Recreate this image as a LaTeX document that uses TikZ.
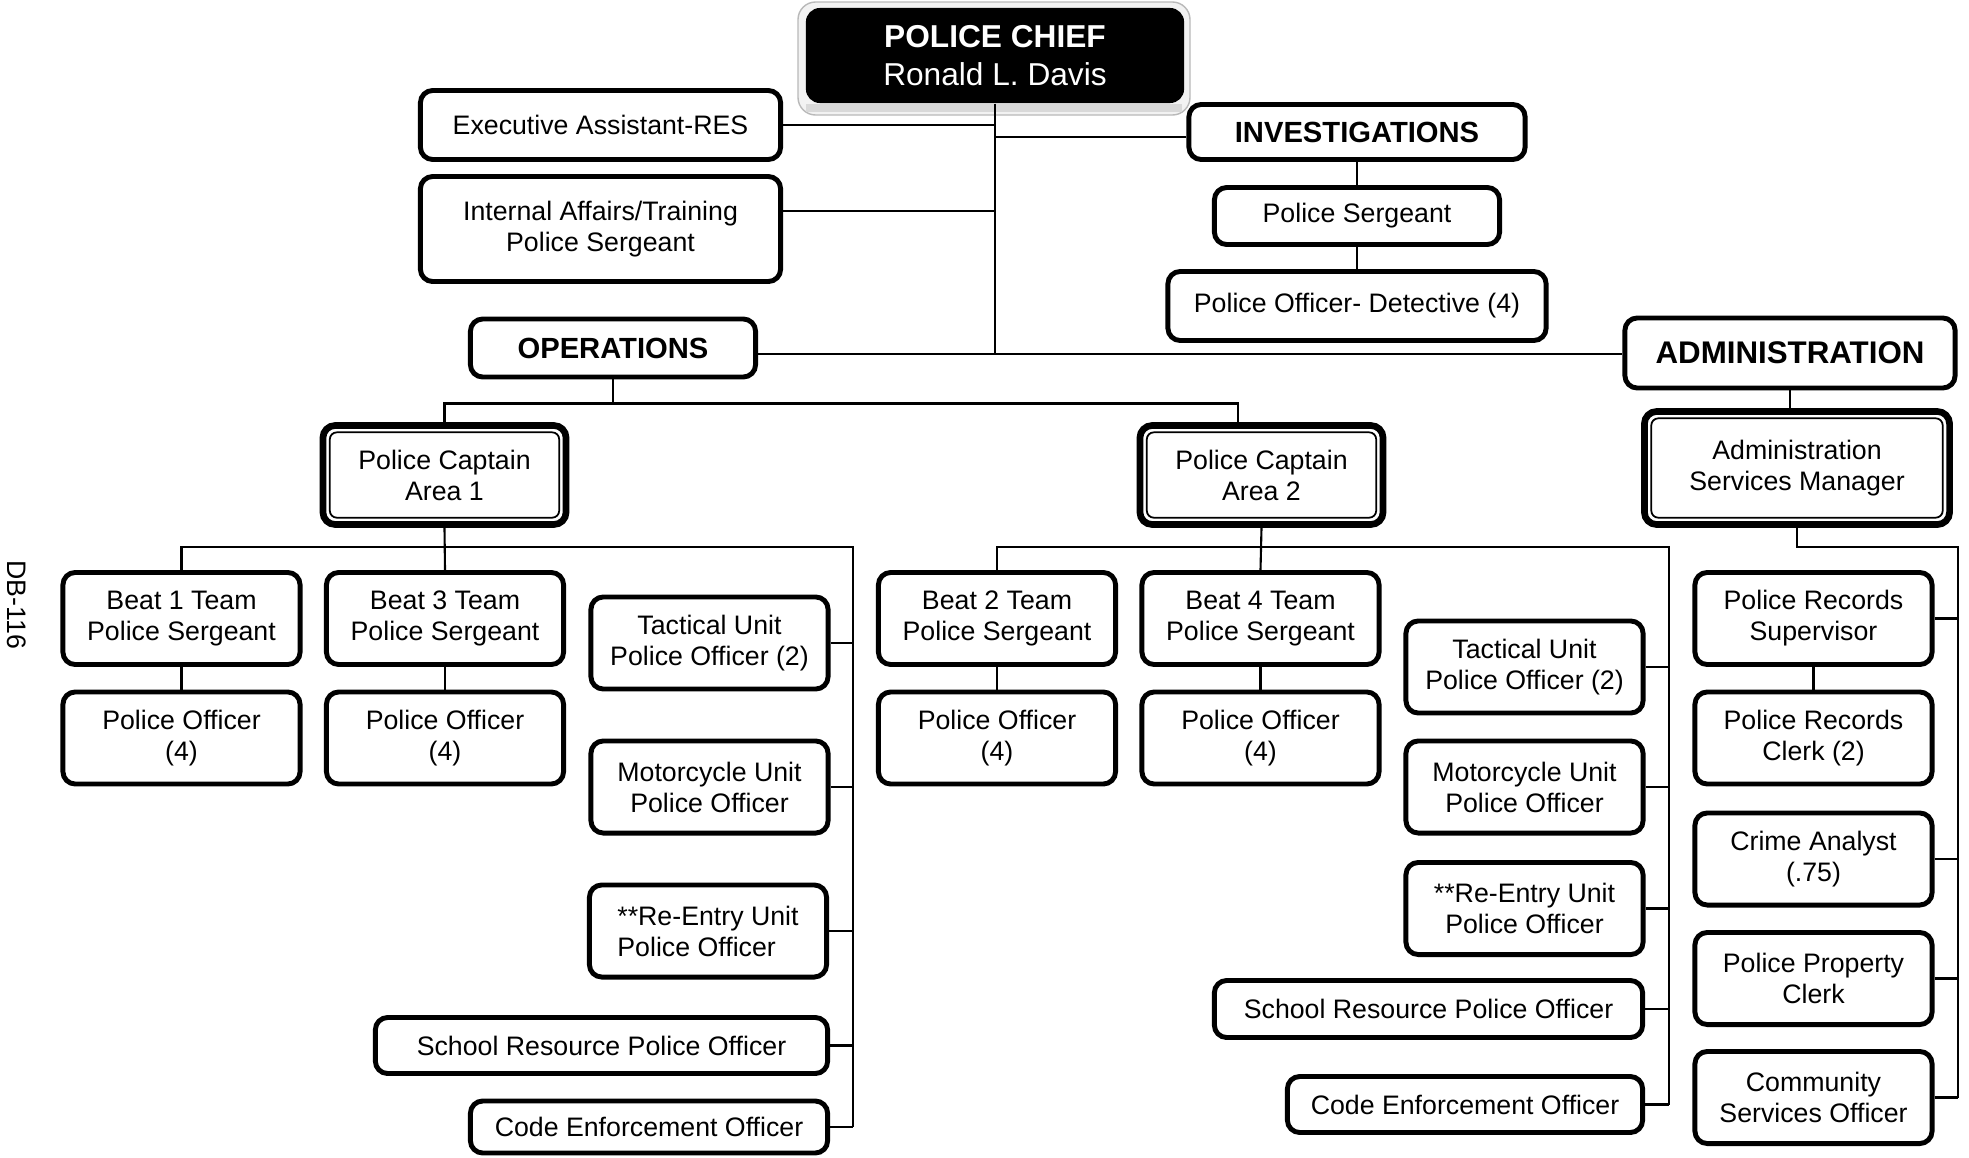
\documentclass[tikz,border=0pt]{standalone}
\usepackage{fontspec}
\setmainfont{Liberation Sans}

\tikzset{
  post/.style={draw,line width=1.4pt,rounded corners=3.5pt,align=center,inner sep=0pt,
    font=\fontsize{7.6}{8.8}\selectfont},
  team/.style={post,minimum width=2.37cm,minimum height=0.92cm},
  head/.style={post,font=\fontsize{8.3}{10}\selectfont\bfseries},
  lead/.style={post,line width=1.9pt},
  link/.style={line width=0.6pt}
}

\begin{document}
\begin{tikzpicture}[x=0.01cm,y=-0.01cm]
  \useasboundingbox (0,0) rectangle (1969,1157);

  % chief
  \draw[gray!55,fill=gray!10,rounded corners=5pt] (798,2) rectangle (1190,115);
  \fill[gray!30] (806,104) rectangle (1182,112);
  \node[fill=black,text=white,rounded corners=4pt,minimum width=3.78cm,minimum height=0.95cm,
    align=center,inner sep=0pt,font=\fontsize{9}{10.8}\selectfont] (chief) at (995,55.5)
    {\textbf{POLICE CHIEF}\\Ronald L. Davis};

  \node[post,minimum width=3.6cm,minimum height=0.69cm] (exec) at (600.5,125) {Executive Assistant-RES};
  \node[post,minimum width=3.6cm,minimum height=1.05cm] (ia) at (600.5,229) {Internal Affairs/Training\\Police Sergeant};

  \node[head,minimum width=3.36cm,minimum height=0.55cm] (inv) at (1357,132) {INVESTIGATIONS};
  \node[post,minimum width=2.85cm,minimum height=0.57cm] (isgt) at (1357,216) {Police Sergeant};
  \node[post,minimum width=3.78cm,minimum height=0.69cm] (det) at (1357,306) {Police Officer- Detective (4)};

  \node[head,minimum width=2.85cm,minimum height=0.58cm] (ops) at (613,348) {OPERATIONS};
  \node[head,font=\fontsize{8.9}{10}\selectfont\bfseries,minimum width=3.3cm,minimum height=0.7cm] (adm) at (1790,353) {ADMINISTRATION};

  % captains and manager
  \node[lead,minimum width=2.43cm,minimum height=0.99cm] (capA) at (444.5,475) {Police Captain\\Area 1};
  \node[lead,minimum width=2.43cm,minimum height=0.99cm] (capB) at (1261.5,475) {Police Captain\\Area 2};
  \node[lead,minimum width=3.05cm,minimum height=1.13cm] (asm) at (1797,468) {Administration\\Services Manager};
  \foreach \n in {capA,capB,asm}
    \draw[line width=0.5pt,rounded corners=2pt] ([shift={(2.9pt,-2.9pt)}]\n.north west) rectangle ([shift={(-2.9pt,2.9pt)}]\n.south east);

  % area 1
  \node[team] (b1) at (181.5,618.5) {Beat 1 Team\\Police Sergeant};
  \node[team] (b3) at (445,618.5) {Beat 3 Team\\Police Sergeant};
  \node[team] (po1) at (181.5,738) {Police Officer\\(4)};
  \node[team] (po3) at (445,738) {Police Officer\\(4)};
  \node[team] (tac1) at (709.5,643) {Tactical Unit\\Police Officer (2)};
  \node[team] (moto1) at (709.5,787) {Motorcycle Unit\\Police Officer};
  \node[team,align=left] (re1) at (708,931) {**Re-Entry Unit\\Police Officer};
  \node[post,minimum width=4.52cm,minimum height=0.56cm] (sch1) at (601.5,1045.5) {School Resource Police Officer};
  \node[post,minimum width=3.57cm,minimum height=0.52cm] (code1) at (649,1127) {Code Enforcement Officer};

  % area 2
  \node[team] (b2) at (997,618.5) {Beat 2 Team\\Police Sergeant};
  \node[team] (b4) at (1260.5,618.5) {Beat 4 Team\\Police Sergeant};
  \node[team] (po2) at (997,738) {Police Officer\\(4)};
  \node[team] (po4) at (1260.5,738) {Police Officer\\(4)};
  \node[team] (tac2) at (1524.5,667) {Tactical Unit\\Police Officer (2)};
  \node[team] (moto2) at (1524.5,787) {Motorcycle Unit\\Police Officer};
  \node[team] (re2) at (1524.5,908.5) {**Re-Entry Unit\\Police Officer};
  \node[post,minimum width=4.28cm,minimum height=0.57cm] (sch2) at (1428.5,1009) {School Resource Police Officer};
  \node[post,minimum width=3.55cm,minimum height=0.56cm] (code2) at (1465,1104.5) {Code Enforcement Officer};

  % administration
  \node[team] (sup) at (1813.5,618.5) {Police Records\\Supervisor};
  \node[team] (clk) at (1813.5,738) {Police Records\\Clerk (2)};
  \node[team] (crime) at (1813.5,859) {Crime Analyst\\(.75)};
  \node[team] (prop) at (1813.5,978.5) {Police Property\\Clerk};
  \node[team] (cso) at (1813.5,1097.5) {Community\\Services Officer};

  \node[rotate=-90,font=\fontsize{7.6}{8.8}\selectfont] (db) at (17,605) {DB-116};

  % top links
  \coordinate (trunk) at ([yshift=-0.06cm]ops.east -| chief.south);
  \draw[link] (chief.south) -- (trunk);
  \draw[link] ([yshift=-0.06cm]ops.east) -- (trunk -| adm.west);
  \draw[link] (exec.east) -- (exec.east -| chief.south);
  \draw[link] ([yshift=0.18cm]ia.east) -- ([yshift=0.18cm]ia.east -| chief.south);
  \draw[link] ([yshift=-0.05cm]inv.west) -- ([yshift=-0.05cm]inv.west -| chief.south);
  \draw[link] (inv.south) -- (isgt.north);
  \draw[link] (isgt.south) -- (det.north);

  % operations
  \coordinate (capBin) at (1238,0);
  \draw[link] (ops.south) -- ++(0,24) coordinate (opsbus);
  \draw[link] (capA.north) |- (capBin |- opsbus) -- (capBin |- capB.north);

  \coordinate (busA) at (853,547);
  \draw[link] (capA.south) -- (b3.north);
  \draw[link] (b1.north) |- (busA) -- (busA |- code1.east);
  \draw[link] (b1.south) -- (po1.north);
  \draw[link] (b3.south) -- (po3.north);
  \foreach \n in {tac1,moto1,re1,sch1,code1}
    \draw[link] (\n.east) -- (\n.east -| busA);

  \coordinate (busB) at (1669,547);
  \draw[link] (capB.south) -- (b4.north);
  \draw[link] (b2.north) |- (busB) -- (busB |- code2.east);
  \draw[link] (b2.south) -- (po2.north);
  \draw[link] (b4.south) -- (po4.north);
  \foreach \n in {tac2,moto2,re2,sch2,code2}
    \draw[link] (\n.east) -- (\n.east -| busB);

  % administration
  \coordinate (busC) at (1958,547);
  \draw[link] (adm.south) -- (adm.south |- asm.north);
  \draw[link] (asm.south) |- (busC) -- (busC |- cso.east);
  \draw[link] (sup.south) -- (clk.north);
  \foreach \n in {sup,crime,prop,cso}
    \draw[link] (\n.east) -- (\n.east -| busC);
\end{tikzpicture}
\end{document}
